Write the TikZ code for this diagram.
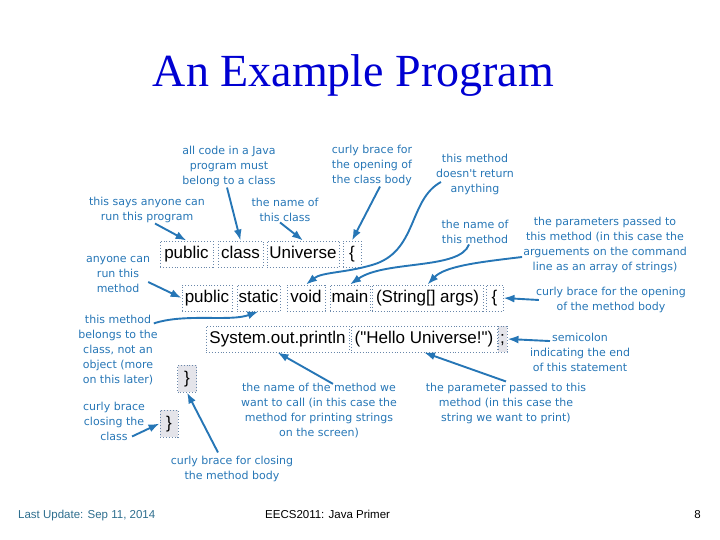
\documentclass[tikz,border=0pt]{standalone}
\usepackage{fontspec}
\setmainfont{Liberation Serif}
\newfontfamily\codefont{Liberation Sans}
\newfontfamily\notefont{DejaVu Sans}
\newfontfamily\footfont{Liberation Sans}
\usetikzlibrary{arrows.meta, calc}

\definecolor{titleblue}{RGB}{0,0,210}
\definecolor{noteblue}{RGB}{38,118,182}
\definecolor{boxline}{RGB}{105,135,170}
\definecolor{bracegray}{RGB}{228,228,234}
\definecolor{footteal}{RGB}{46,110,142}

\begin{document}
\begin{tikzpicture}[x=1pt, y=-1pt, >={Latex[length=11pt, width=8pt]},
    code/.style={draw=boxline, dotted, line width=0.9pt, inner sep=0pt,
      minimum height=26pt, text height=12.5pt, text depth=3.5pt,
      font=\codefont\fontsize{17}{17}\selectfont},
    shade/.style={code, fill=bracegray},
    note/.style={text=noteblue, align=center, inner sep=1pt,
      font=\notefont\fontsize{11}{15}\selectfont},
    foot/.style={inner sep=0pt, font=\footfont\fontsize{11.5}{12}\selectfont},
    arr/.style={->, color=noteblue, line width=1.9pt}]
    % 页面
    \useasboundingbox (0,0) rectangle (720,540);

    % 三行代码的 y 坐标
    \pgfmathsetmacro{\ya}{254} % 第一行
    \pgfmathsetmacro{\yb}{298} % 第二行
    \pgfmathsetmacro{\yc}{339} % 第三行

    % 标题
    \node[text=titleblue, font=\fontsize{46}{46}\selectfont, anchor=base] (title) at (353.5,87) {An Example Program};

    % 第一行: public class Universe {
    \node[code, minimum width=53pt] (pubA) at (186.5,\ya) {public};
    \node[code, minimum width=45pt] (cls) at (240.5,\ya) {class};
    \node[code, minimum width=72pt] (univ) at (303,\ya) {Universe};
    \node[code, minimum width=18pt] (obrA) at (352,\ya) {\{};

    % 第二行: public static void main (String[] args) {
    \node[code, minimum width=50pt] (pubB) at (207,\yb) {public};
    \node[code, minimum width=43pt] (stat) at (258.5,\yb) {static};
    \node[code, minimum width=38pt] (void) at (306,\yb) {void};
    \node[code, minimum width=40pt] (main) at (350,\yb) {main};
    \node[code, minimum width=111pt] (args) at (427.5,\yb) {(String[] args)};
    \node[code, minimum width=17pt] (obrB) at (494.5,\yb) {\{};

    % 第三行: System.out.println ("Hello Universe!");
    \node[code, minimum width=143pt] (sout) at (277.5,\yc) {System.out.println};
    \node[code, minimum width=146pt] (hello) at (424,\yc) {("Hello Universe!")};
    \node[shade, minimum width=9pt] (semi) at (502.5,\yc) {;};

    % 两个右花括号
    \node[shade, minimum width=19pt, minimum height=27pt] (cbrB) at (187,378.5) {\}};
    \node[shade, minimum width=18pt, minimum height=27pt] (cbrA) at (169,423.5) {\}};

    % 说明文字
    \node[note] (tJava) at (229,166) {all code in a Java\\program must\\belong to a class};
    \node[note] (tOpen) at (372,165) {curly brace for\\the opening of\\the class body};
    \node[note] (tVoid) at (475,174) {this method\\doesn't return\\anything};
    \node[note] (tPublic) at (147,209.5) {this says anyone can\\run this program};
    \node[note] (tClass) at (285,209.5) {the name of\\this class};
    \node[note] (tMain) at (475,231.5) {the name of\\this method};
    \node[note] (tArgs) at (605,245) {the parameters passed to\\this method (in this case the\\arguements on the command\\line as an array of strings)};
    \node[note] (tRun) at (118,274) {anyone can\\run this\\method};
    \node[note] (tOpenM) at (611,300) {curly brace for the opening\\of the method body};
    \node[note] (tStatic) at (118,350.5) {this method\\belongs to the\\class, not an\\object (more\\on this later)};
    \node[note] (tSemi) at (580,352.5) {semicolon\\indicating the end\\of this statement};
    \node[note] (tPrint) at (319,410.5) {the name of the method we\\want to call (in this case the\\method for printing strings\\on the screen)};
    \node[note] (tHello) at (506,403) {the parameter passed to this\\method (in this case the\\string we want to print)};
    \node[note] (tClose) at (114,421.5) {curly brace\\closing the\\class};
    \node[note] (tCloseM) at (232,468.5) {curly brace for closing\\the method body};

    % 箭头
    \draw[arr] ($(tPublic.south)+(8,0)$) -- (pubA.north);
    \draw[arr] ($(tJava.south)+(-2,0)$) -- (cls.north);
    \draw[arr] ($(tClass.south)+(-5,0)$) -- (univ.north);
    \draw[arr] ($(tOpen.south)+(8,0)$) -- (obrA.north);
    \draw[arr] ($(tVoid.west)+(6,8)$) .. controls (408,200) and (418,252) .. (372,265)
        .. controls (345,273) and (322,272) .. (void.north);
    \draw[arr] ($(tMain.south)+(-6,0)$) .. controls (460,270) and (385,260) .. (main.north);
    \draw[arr] ($(tArgs.west)+(0,12)$) .. controls (480,262) and (445,266) .. (args.north);
    \draw[arr] ($(tRun.east)+(-3,8)$) -- (pubB.west);
    \draw[arr] ($(tOpenM.west)+(4,0)$) -- (obrB.east);
    \draw[arr] ($(tStatic.north east)+(-5,9)$) .. controls (185,313) and (230,322) .. (stat.south);
    \draw[arr] ($(tSemi.north)+(-30,9)$) -- (semi.east);
    \draw[arr] ($(tPrint.north)+(14,2)$) -- (sout.south);
    \draw[arr] (tHello.north) -- (hello.south);
    \draw[arr] ($(tCloseM.north)+(-14,-2)$) -- (cbrB.south);
    \draw[arr] ($(tClose.east)+(-14,15)$) -- (cbrA.west);

    % 页脚
    \node[foot, text=footteal, anchor=base west] (date) at (18,518) {Last Update: Sep 11, 2014};
    \node[foot, anchor=base west] (course) at (265,518) {EECS2011: Java Primer};
    \node[foot, anchor=base east] (page) at (701,518) {8};
\end{tikzpicture}
\end{document}
